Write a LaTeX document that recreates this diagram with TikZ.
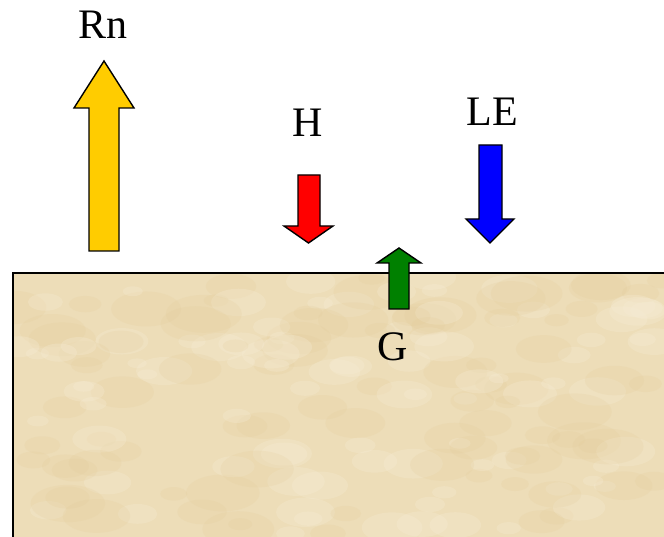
\documentclass[tikz,border=0pt]{standalone}
\usepackage{fontspec}
\setmainfont{Liberation Serif}
\definecolor{soil}{RGB}{237,221,184}
\definecolor{soildark}{RGB}{226,202,150}
\definecolor{soillight}{RGB}{246,236,212}
\definecolor{rnyellow}{RGB}{255,204,0}
\definecolor{hred}{RGB}{255,0,0}
\definecolor{leblue}{RGB}{0,0,255}
\definecolor{ggreen}{RGB}{0,128,0}
\tikzset{
  flux/.style={draw=black, line width=1.4pt, line join=miter},
  lbl/.style={anchor=base, inner sep=0pt, font=\fontsize{42}{50}\selectfont}
}
\begin{document}
\begin{tikzpicture}[x=1pt, y=-1pt]
    \useasboundingbox (0,0) rectangle (664,537);
    % ground, with a faint mottled texture
    \fill[soil] (13,273) rectangle (664,537);
    \begin{scope}
      \clip (13,273) rectangle (664,537);
      \pgfmathsetseed{7}
      \foreach \k in {1,...,90}
      {
        \pgfmathsetmacro{\px}{13+651*rnd}
        \pgfmathsetmacro{\py}{273+264*rnd}
        \pgfmathsetmacro{\pr}{12+26*rnd}
        \fill[soildark, opacity=0.18] (\px,\py) ellipse ({\pr pt} and {0.5*\pr pt});
        \pgfmathsetmacro{\qx}{13+651*rnd}
        \pgfmathsetmacro{\qy}{273+264*rnd}
        \fill[soillight, opacity=0.3] (\qx,\qy) ellipse ({0.8*\pr pt} and {0.4*\pr pt});
      }
    \end{scope}
    \draw[line width=1.4pt] (664,273) -- (13,273) -- (13,537);
    % block arrows
    \draw[flux, fill=rnyellow] (89,251) -- (89,108) -- (74,108) -- (104,61)
      -- (134,108) -- (119,108) -- (119,251) -- cycle;
    \draw[flux, fill=hred] (298,175) -- (298,226) -- (284,226) -- (308.5,243)
      -- (333,226) -- (320,226) -- (320,175) -- cycle;
    \draw[flux, fill=leblue] (479,145) -- (479,219) -- (466,219) -- (490,243)
      -- (514,219) -- (502,219) -- (502,145) -- cycle;
    \draw[flux, fill=ggreen] (389,309) -- (389,263) -- (377,263) -- (399,248)
      -- (421,263) -- (409,263) -- (409,309) -- cycle;
    % labels
    \node[lbl] (rn) at (103,39) {Rn};
    \node[lbl] (h) at (308,137) {H};
    \node[lbl] (le) at (492,126) {LE};
    \node[lbl] (g) at (393,360) {G};
\end{tikzpicture}
\end{document}
